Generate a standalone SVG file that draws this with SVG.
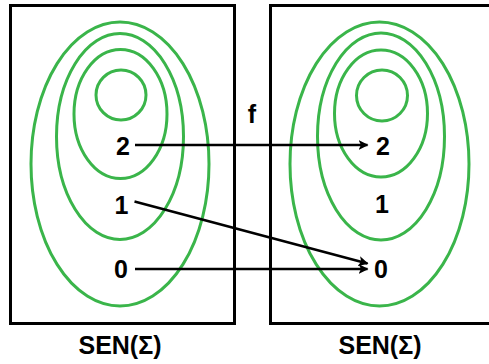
<svg xmlns="http://www.w3.org/2000/svg" width="489" height="364" viewBox="0 0 489 364">
<defs>
<style>
.box{fill:none;stroke:#000;stroke-width:3}
.ring{fill:none;stroke:#3ab54a;stroke-width:3}
.lbl{font-family:"Liberation Sans",Arial,sans-serif;font-weight:bold;font-size:25px;fill:#000;text-anchor:middle}
.edge{fill:none;stroke:#000;stroke-width:2.5}
</style>
<marker id="ah" viewBox="0 0 10 10" refX="9" refY="5" markerWidth="4" markerHeight="4" markerUnits="strokeWidth" orient="auto">
<path d="M0,0 L10,5 L0,10 L2.5,5 z" fill="#000"/>
</marker>
</defs>
<rect width="489" height="364" fill="#fff"/>
<g id="left-set">
<rect class="box" x="10.5" y="5.5" width="224" height="318"/>
<ellipse class="ring" cx="120" cy="164" rx="89" ry="142"/>
<ellipse class="ring" cx="120" cy="136.5" rx="63.5" ry="103"/>
<ellipse class="ring" cx="120.5" cy="114" rx="46.5" ry="64.5"/>
<circle class="ring" cx="121" cy="95" r="25"/>
<text class="lbl" x="123" y="155">2</text>
<text class="lbl" x="121.5" y="214">1</text>
<text class="lbl" x="121" y="278">0</text>
<text class="lbl" x="120" y="354">SEN(Σ)</text>
</g>
<g id="right-set">
<rect class="box" x="270.5" y="5.5" width="224" height="318"/>
<ellipse class="ring" cx="379.5" cy="164" rx="89.5" ry="142"/>
<ellipse class="ring" cx="381" cy="136.5" rx="63.5" ry="103.5"/>
<ellipse class="ring" cx="381" cy="113.5" rx="46.5" ry="63.5"/>
<circle class="ring" cx="382" cy="95.5" r="25.5"/>
<text class="lbl" x="383" y="155">2</text>
<text class="lbl" x="382" y="213">1</text>
<text class="lbl" x="381" y="278">0</text>
<text class="lbl" x="380" y="354">SEN(Σ)</text>
</g>
<g id="connectors">
<line class="edge" x1="135" y1="145" x2="367.5" y2="145" marker-end="url(#ah)"/>
<line class="edge" x1="134.5" y1="201.5" x2="367.5" y2="263.5" marker-end="url(#ah)"/>
<line class="edge" x1="135" y1="269" x2="367.5" y2="269" marker-end="url(#ah)"/>
<text class="lbl" x="252" y="123">f</text>
</g>
</svg>
